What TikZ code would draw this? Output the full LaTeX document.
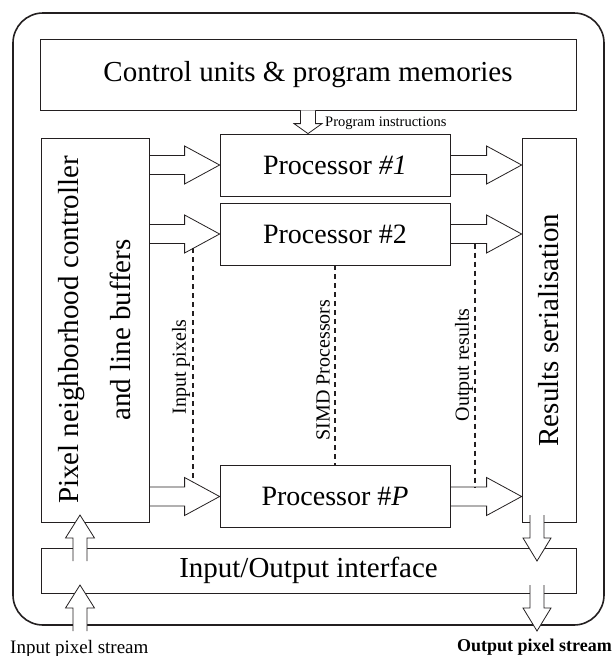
\documentclass[tikz,border=0pt]{standalone}
\usepackage{fontspec}
\setmainfont{Liberation Serif}
\usetikzlibrary{calc, positioning}
\definecolor{linecolor}{RGB}{35, 31, 32}

\tikzset{
  block/.style={draw=linecolor, line width=0.8pt, inner sep=0pt, font=\fontsize{29}{35}\selectfont},
  proc/.style={block, minimum width=230pt, minimum height=62pt, font=\fontsize{28}{34}\selectfont},
  blockarrow/.style={draw=linecolor, line width=0.8pt, line join=miter},
  busline/.style={draw=linecolor, line width=1.4pt, dash pattern=on 5pt off 4pt},
  buslabel/.style={rotate=90, inner sep=0pt, font=\fontsize{20}{24}\selectfont},
}

% hollow arrow, left to right
\newcommand{\harrow}[2]{%
  \draw[blockarrow] let \p1=(#1), \p2=(#2) in
    (\x1,\y1+9.5pt) -- (\x2-35pt,\y1+9.5pt) -- (\x2-35pt,\y1+19pt) -- (\x2,\y1)
    -- (\x2-35pt,\y1-19pt) -- (\x2-35pt,\y1-9.5pt) -- (\x1,\y1-9.5pt);}

% hollow arrow, up or down: shaft half, head half, head length
\newcommand{\varrow}[5]{%
  \draw[blockarrow, fill=white] let \p1=(#1), \p2=(#2), \n1={sign(\y2-\y1)} in
    (\x1-#3,\y1) -- (\x1-#3,\y2-\n1*#5) -- (\x1-#4,\y2-\n1*#5) -- (\x1,\y2)
    -- (\x1+#4,\y2-\n1*#5) -- (\x1+#3,\y2-\n1*#5) -- (\x1+#3,\y1);}

\begin{document}
\begin{tikzpicture}[x=1pt, y=-1pt]
  \useasboundingbox (0,0) rectangle (613,656);

  % Draw the frame and the blocks
  \node[draw=linecolor, line width=1.6pt, rounded corners=30pt, minimum width=591pt, minimum height=612pt] (frame) at (308.5,319) {};
  \node[block, minimum width=536pt, minimum height=71pt] (ctrl) at (308,74.5) {Control units \& program memories};
  \node[block, minimum width=108pt, minimum height=384pt] (nbh) at (95,330) {};
  \node[rotate=90, align=center, inner sep=0pt, font=\fontsize{29}{35}\selectfont] (nbhtext) at (nbh.center) {Pixel neighborhood controller\\[17pt]and line buffers};
  \node[proc] (proc1) at (335,165) {Processor \textit{\#1}};
  \node[proc] (proc2) at (335,234) {Processor \#2};
  \node[proc] (procP) at (335,496.5) {Processor \#\textit{P}};
  \node[block, minimum width=54pt, minimum height=384pt] (ser) at (549,330) {};
  \node[rotate=90, inner sep=0pt, font=\fontsize{29}{35}\selectfont] (sertext) at (ser.center) {Results serialisation};
  \node[block, minimum width=535pt, minimum height=45pt] (io) at (308.5,570.5) {Input/Output interface};

  % Data arrows
  \harrow{nbh.east |- proc1.west}{proc1.west}
  \harrow{nbh.east |- proc2.west}{proc2.west}
  \harrow{nbh.east |- procP.west}{procP.west}
  \harrow{proc1.east}{ser.west |- proc1.east}
  \harrow{proc2.east}{ser.west |- proc2.east}
  \harrow{procP.east}{ser.west |- procP.east}

  % Program instructions
  \varrow{ctrl.south}{ctrl.south |- proc1.north}{7.5pt}{14pt}{10pt}
  \node[anchor=base west, inner sep=0pt, font=\fontsize{14.5}{17}\selectfont] (instr) at (325,126.5) {Program instructions};

  % Pixel streams
  \coordinate (in0) at (80,631);
  \coordinate (in1) at (80,585);
  \coordinate (in2) at (80,561);
  \coordinate (in3) at (80,515);
  \coordinate (out0) at (537,515);
  \coordinate (out1) at (537,561);
  \coordinate (out2) at (537,585);
  \coordinate (out3) at (537,631);
  \varrow{in0}{in1}{7pt}{14.5pt}{23pt}
  \varrow{in2}{in3}{7pt}{14.5pt}{23pt}
  \varrow{out0}{out1}{7pt}{14pt}{23pt}
  \varrow{out2}{out3}{7pt}{14pt}{23pt}
  \node[anchor=base west, inner sep=0pt, font=\fontsize{19}{23}\selectfont] (instream) at (10,653) {Input pixel stream};
  \node[anchor=base east, inner sep=0pt, font=\bfseries\fontsize{18}{22}\selectfont] (outstream) at (612,651) {Output pixel stream};

  % Dashed buses
  \coordinate (inbusA) at (193,248);
  \coordinate (inbusB) at (193,482);
  \coordinate (outbusA) at (475,243.5);
  \coordinate (outbusB) at (475,487);
  \draw[busline] (inbusA) -- (inbusB);
  \draw[busline] (proc2.south) -- (procP.north);
  \draw[busline] (outbusA) -- (outbusB);
  \node[buslabel] (inlabel) at (181,367) {Input pixels};
  \node[buslabel] (simdlabel) at (323,370) {SIMD Processors};
  \node[buslabel] (outlabel) at (464,365) {Output results};
\end{tikzpicture}
\end{document}
